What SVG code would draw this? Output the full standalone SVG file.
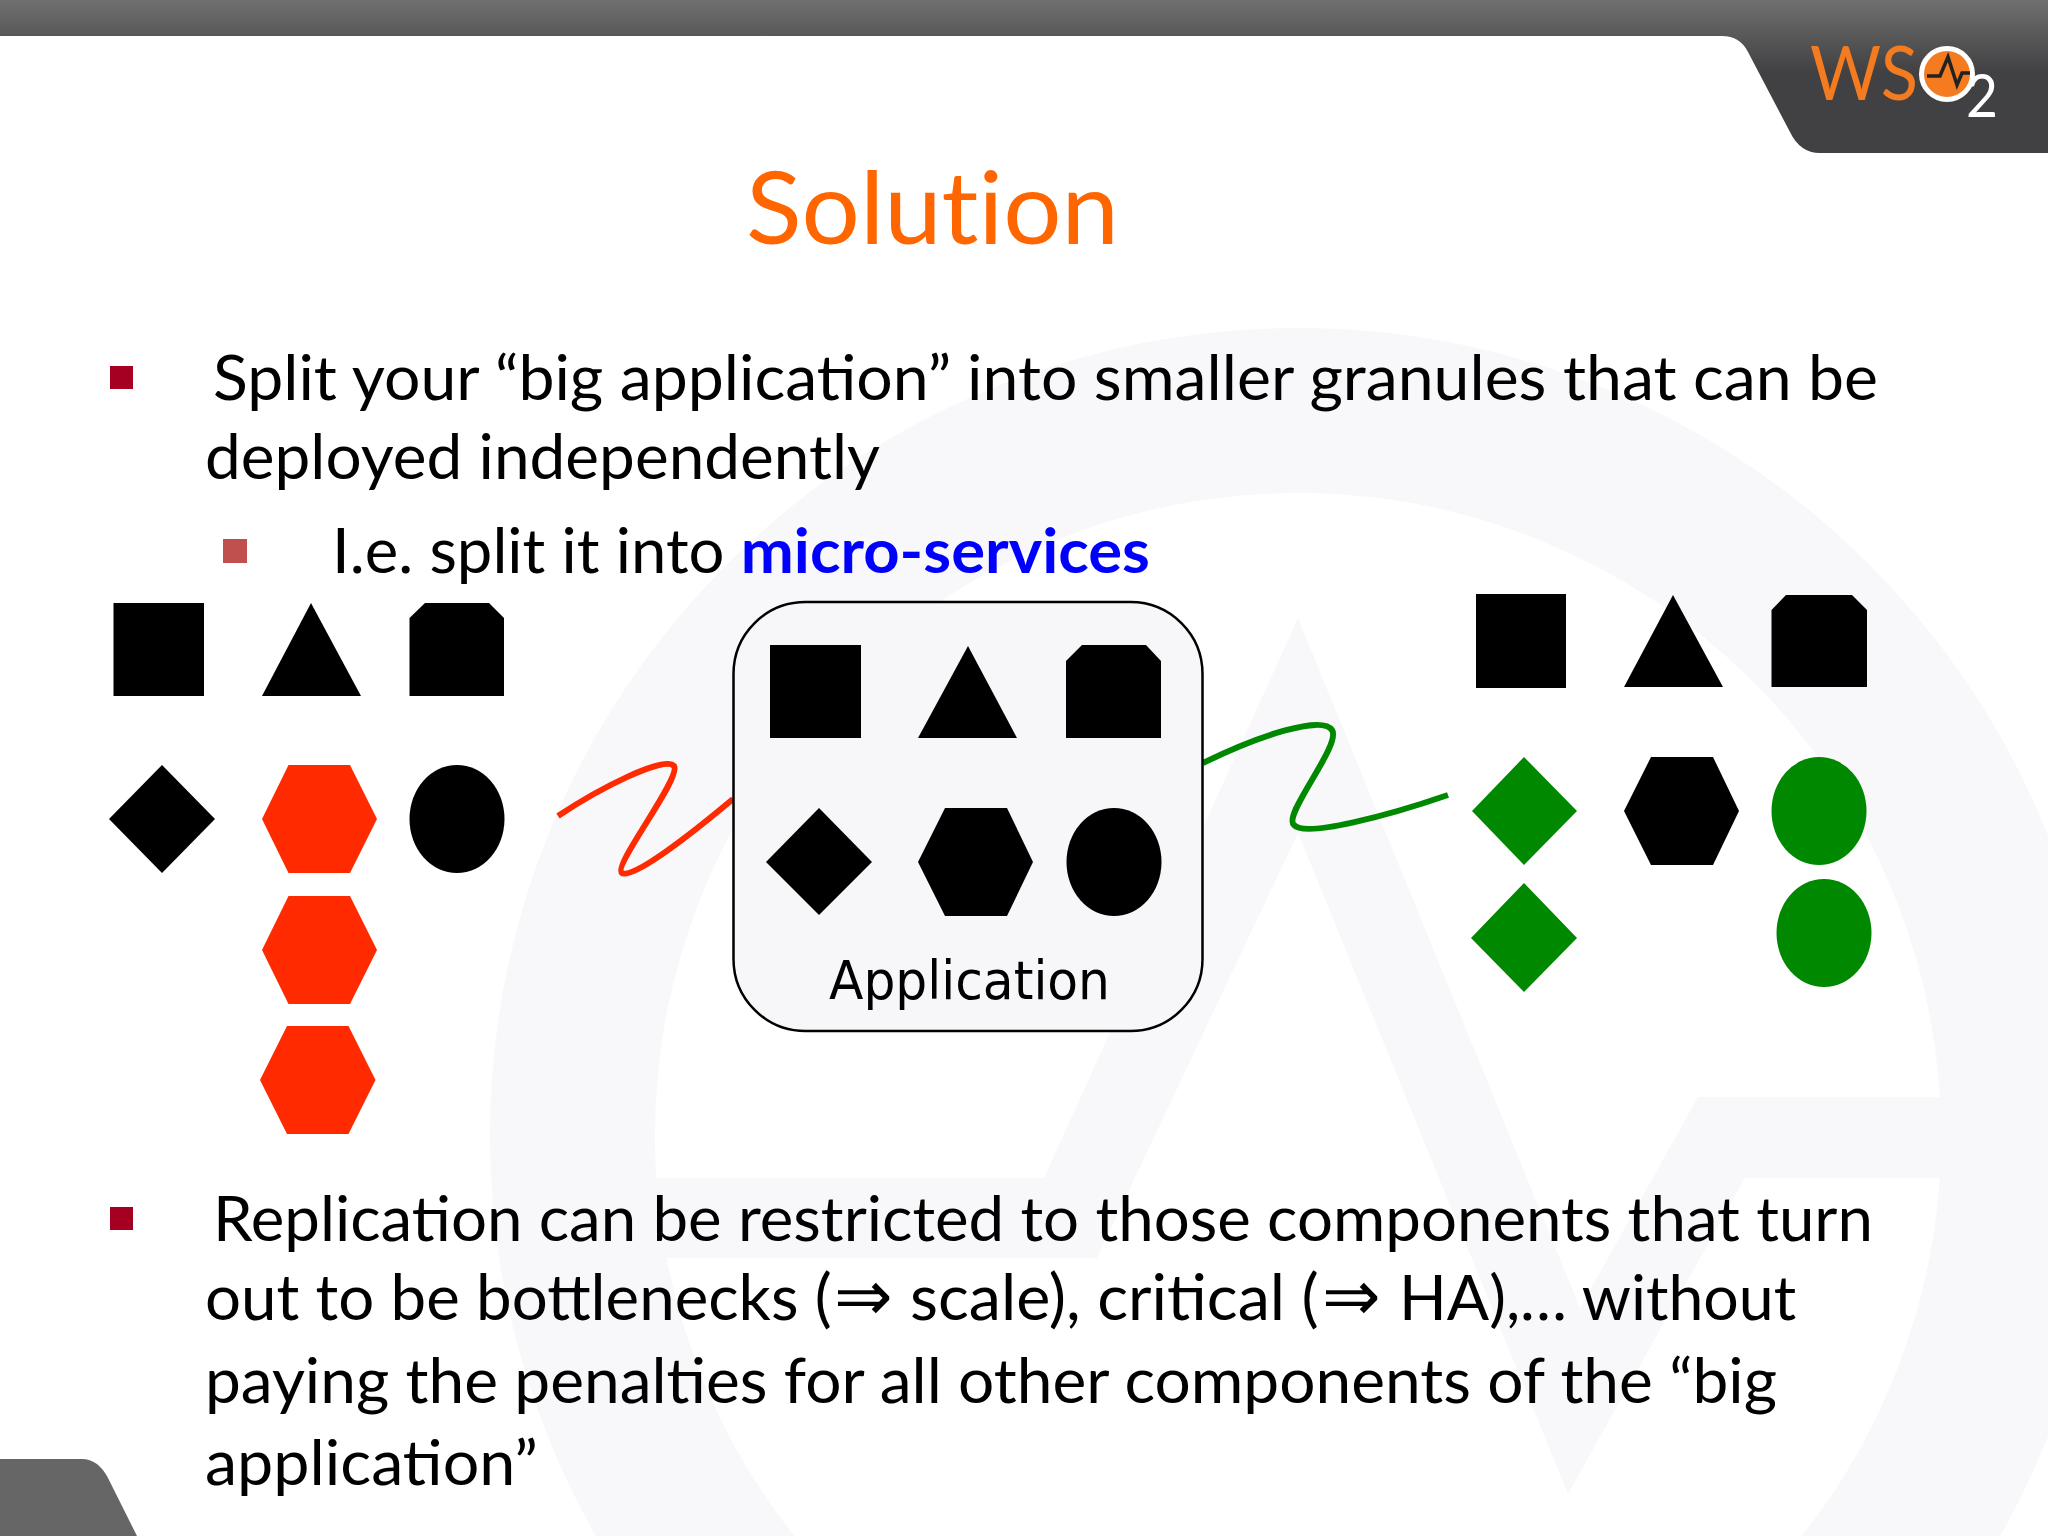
<svg xmlns="http://www.w3.org/2000/svg" width="2048" height="1536" viewBox="0 0 2048 1536">
<defs>
<linearGradient id="top" gradientUnits="userSpaceOnUse" x1="0" y1="0" x2="0" y2="72"><stop offset="0" stop-color="#707070"/><stop offset="1" stop-color="#414042"/></linearGradient>
<clipPath id="page"><rect width="2048" height="1536"/></clipPath>
</defs>
<style>
text{font-family:"Lato","Liberation Sans",sans-serif;fill:#000}
.b{font-size:62px}
.ar{font-family:"DejaVu Sans",sans-serif;font-size:70px}
.k{fill:#000}.r{fill:#ff2a00}.g{fill:#008800}
.wm{fill:#f8f7fa}
</style>
<rect width="2048" height="1536" fill="#fff"/>
<g id="watermark" clip-path="url(#page)">
<circle cx="1298" cy="1136" r="725.5" fill="none" stroke="#f8f7fa" stroke-width="165"/>
<path class="wm" d="M1298 618L1580 1308L1698 1097H1960V1178H1745L1568 1494L1298 833L1097 1258H650V1178H1044Z"/>
</g>
<g id="header">
<path fill="url(#top)" d="M0 0H2048V153H1820Q1800 153 1790 132L1748 52Q1740 36 1722 36H0Z"/>
<path fill="#666" d="M0 1536V1459H82Q98 1459 108 1478L137 1536Z"/>
</g>
<g id="logo">
<text x="1810" y="100" style="font-size:76px;fill:#f47b20" textLength="108" lengthAdjust="spacingAndGlyphs">WS</text>
<circle cx="1947" cy="74" r="25.5" fill="#f47b20" stroke="#fff" stroke-width="5"/>
<path d="M1927 76H1940L1948 57L1957 85L1962 73H1970" fill="none" stroke="#222" stroke-width="3.5"/>
<text x="1966" y="117" style="font-size:60px;fill:#fff" textLength="32" lengthAdjust="spacingAndGlyphs">2</text>
</g>
<g id="title"><text x="746" y="244" style="font-size:100px;fill:#ff6600;font-variant-ligatures:none" textLength="373" lengthAdjust="spacingAndGlyphs">Solution</text></g>
<g id="text">
<rect x="110" y="366" width="23" height="23" fill="#a50021"/>
<text class="b" x="213" y="400" textLength="1665" lengthAdjust="spacingAndGlyphs">Split your “big application” into smaller granules that can be</text>
<text class="b" x="205" y="479" textLength="675" lengthAdjust="spacingAndGlyphs">deployed independently</text>
<rect x="223" y="539" width="24" height="24" fill="#c0504d"/>
<text class="b" x="332" y="573" textLength="818" lengthAdjust="spacingAndGlyphs">I.e. split it into <tspan style="fill:#0000ff;font-weight:700">micro-services</tspan></text>
<rect x="110" y="1207" width="23" height="23" fill="#a50021"/>
<text class="b" x="213" y="1241" textLength="1660" lengthAdjust="spacingAndGlyphs">Replication can be restricted to those components that turn</text>
<text class="b" y="1320"><tspan x="205" style="font-size:63.6px">out to be bottlenecks (</tspan><tspan x="834" class="ar">⇒</tspan> <tspan x="910" style="font-size:64.6px">scale), critical (</tspan><tspan x="1322" class="ar">⇒</tspan> <tspan x="1399" style="font-size:62.6px">HA),… without</tspan></text>
<text class="b" x="205" y="1403" textLength="1572" lengthAdjust="spacingAndGlyphs">paying the penalties for all other components of the “big</text>
<text class="b" x="205" y="1485" textLength="333" lengthAdjust="spacingAndGlyphs">application”</text>
</g>
<g id="connectors" fill="none" stroke-width="6">
<path stroke="#ff2a00" d="M558 816C600 788 665 755 674 766C682 778 612 866 622 873C632 880 690 835 733 799"/>
<path stroke="#008800" d="M1203 763C1260 735 1322 715 1332 730C1342 745 1282 815 1294 825C1305 838 1390 815 1448 795"/>
</g>
<g id="left-group">
<rect class="k" x="113.5" y="603" width="90.5" height="93"/>
<path class="k" d="M311 603L361 696H262Z"/>
<path class="k" d="M425 603H489L504 618V696H409.5V618Z"/>
<path class="k" d="M162 765L215 819L162 873L109 819Z"/>
<path class="r" d="M288.5 765H350L377 819L350 873H288.5L262 819Z"/>
<ellipse class="k" cx="457" cy="819" rx="47.5" ry="54"/>
<path class="r" d="M288.5 896H350L377 950L350 1004H288.5L262 950Z"/>
<path class="r" d="M287 1026H348.5L375.5 1080L348.5 1134H287L260 1080Z"/>
</g>
<g id="application">
<rect x="733.5" y="602" width="469" height="429" rx="72" ry="72" fill="#f7f6f9" stroke="#000" stroke-width="2.5"/>
<rect class="k" x="770" y="645" width="91" height="93"/>
<path class="k" d="M968 646L1017 738H918Z"/>
<path class="k" d="M1082 645H1146L1161 661V738H1066V661Z"/>
<path class="k" d="M819 808L872 862L819 915L766 862Z"/>
<path class="k" d="M945 808H1007L1033 862L1007 916H945L918 862Z"/>
<ellipse class="k" cx="1114" cy="862" rx="47.5" ry="54"/>
<text x="829" y="999" style="font-family:'DejaVu Sans',sans-serif;font-size:53px" textLength="281" lengthAdjust="spacingAndGlyphs">Application</text>
</g>
<g id="right-group">
<rect class="k" x="1476" y="594" width="90" height="94"/>
<path class="k" d="M1673 595L1723 687H1624Z"/>
<path class="k" d="M1786 595H1852L1867 610V687H1771.5V610Z"/>
<path class="g" d="M1524 757L1577 811L1524 865L1472 811Z"/>
<path class="k" d="M1651 757H1713L1739 811L1713 865H1651L1624 811Z"/>
<ellipse class="g" cx="1819" cy="811" rx="47.5" ry="54"/>
<path class="g" d="M1524 883L1577 938L1524 992L1471 938Z"/>
<ellipse class="g" cx="1824" cy="933" rx="47.5" ry="54"/>
</g>
</svg>
